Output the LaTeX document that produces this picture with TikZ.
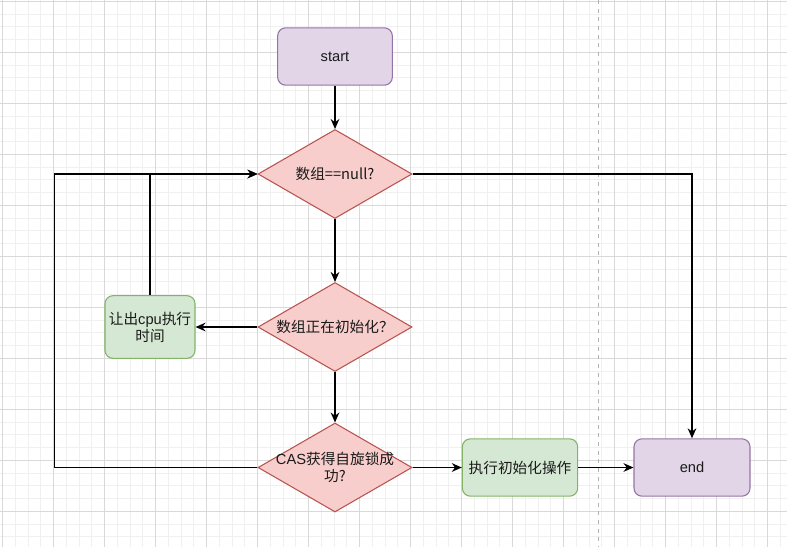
\documentclass[tikz,border=0pt]{standalone}
\usepackage{fontspec}
\setmainfont{Liberation Sans}
\newfontfamily\cjk{Noto Sans CJK SC}
\usetikzlibrary{arrows.meta,shapes.geometric}
\definecolor{gminor}{HTML}{F0F0F0}
\definecolor{gmajor}{HTML}{D9D9D9}
\definecolor{purfill}{HTML}{E1D5E7}
\definecolor{purline}{HTML}{9673A6}
\definecolor{redfill}{HTML}{F8CECC}
\definecolor{redline}{HTML}{B85450}
\definecolor{grnfill}{HTML}{D5E8D4}
\definecolor{grnline}{HTML}{82B366}
\definecolor{txt}{HTML}{1A1A1A}
\tikzset{
  purbox/.style={draw=purline,fill=purfill,rounded corners=6pt,line width=0.8pt,minimum width=86pt,minimum height=43pt,inner sep=0pt,font=\fontsize{11}{12.75}\selectfont,text=txt},
  grnbox/.style={draw=grnline,fill=grnfill,rounded corners=6pt,line width=0.8pt,inner sep=0pt,font=\fontsize{11}{12.75}\selectfont,text=txt,align=center},
  decis/.style={diamond,draw=redline,fill=redfill,line width=0.8pt,minimum width=115.5pt,minimum height=66.75pt,inner sep=0pt},
  lbl/.style={font=\fontsize{11}{12.75}\selectfont,text=txt,align=center,inner sep=0pt},
  conn/.style={draw=black,line width=1pt},
  arr/.style={conn,-{Stealth[length=7.5pt,width=6.5pt]}}
}
\begin{document}
\begin{tikzpicture}[x=0.75pt,y=-0.75pt]
\useasboundingbox (0,0) rectangle (787,547);
% grid
\foreach \i in {0,...,62} {
  \draw[gminor,line width=0.75pt] ({2.7+12.75*\i},0) -- ({2.7+12.75*\i},547);
}
\foreach \i in {-1,...,43} {
  \draw[gminor,line width=0.75pt] (0,{1.3+12.75*\i}) -- (787,{1.3+12.75*\i});
}
\foreach \i in {0,...,15} {
  \draw[gmajor,line width=0.75pt] ({2.7+51*\i},0) -- ({2.7+51*\i},547);
}
\foreach \i in {0,...,10} {
  \draw[gmajor,line width=0.75pt] (0,{1.3+51*\i}) -- (787,{1.3+51*\i});
}
\draw[color=gray!60,line width=0.9pt,dash pattern=on 3pt off 3.5pt] (598.3,0) -- (598.3,547);

% nodes
\node[purbox] (start) at (335,56.5) {start};
\node[decis] (d1) at (335,174) {};
\node[lbl] (t1) at (335,174) {\cjk 数组==null?};
\node[decis] (d2) at (335,327) {};
\node[lbl] (t2) at (335,327) {\cjk 数组正在初始化？};
\node[grnbox,minimum width=67.5pt,minimum height=47pt] (wait) at (150,327) {{\cjk 让出}cpu{\cjk 执行}\\{\cjk 时间}};
\node[decis] (d3) at (335,467.5) {};
\node[lbl] (t3) at (335,467.5) {CAS{\cjk 获得自旋锁成}\\{\cjk 功?}};
\node[grnbox,minimum width=86.5pt,minimum height=43pt] (init) at (520,467.5) {\cjk 执行初始化操作};
\node[purbox,minimum width=87pt] (end) at (692,467.5) {end};
\coordinate (lp) at (54.5,320);

% connectors
\draw[arr] (start.south) -- (d1.north);
\draw[arr] (d1.south) -- (d2.north);
\draw[arr] (d2.west) -- (wait.east);
\draw[arr] (d2.south) -- (d3.north);
\draw[arr] (d3.east) -- (init.west);
\draw[arr] (init.east) -- (end.west);
\draw[arr] (d1.east) -| (end.north);
\draw[arr] (d3.west) -| (lp) |- (d1.west);
\draw[arr] (wait.north) |- (d1.west);
\end{tikzpicture}
\end{document}
